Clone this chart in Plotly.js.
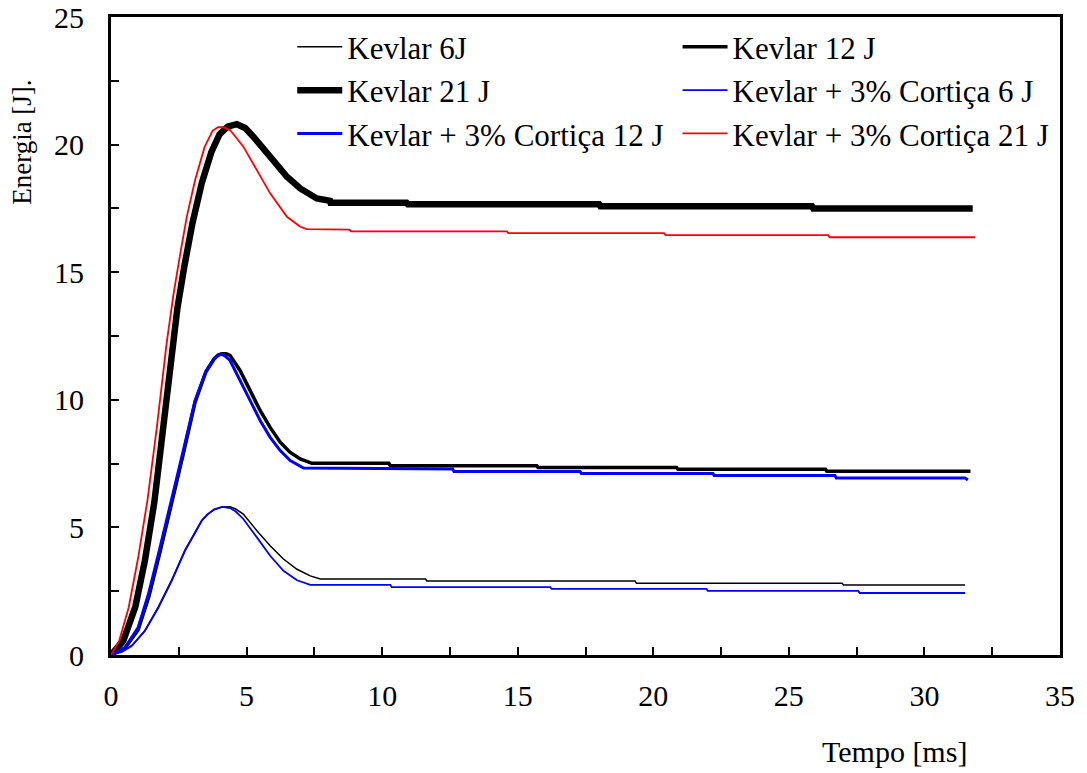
<!DOCTYPE html>
<html>
<head>
<meta charset="utf-8">
<script src="https://cdn.plot.ly/plotly-3.0.1.min.js"></script>
<style>html,body{margin:0;padding:0;background:#fff;}#chart{width:1087px;height:773px;}</style>
</head>
<body>
<div id="chart"></div>
<script>
// Kevlar 6J
const tK6 = [0,0.5,0.8,1.25,1.75,2.24,2.73,3.35,3.55,3.8,4.1,4.39,4.6,4.88,5.38,5.87,6.36,6.86,7.35,7.72,11.6,11.65,19.33,19.38,26.97,27.02,31.5];
const eK6 = [0,0.2,0.4,0.96,1.9,2.95,4.12,5.28,5.5,5.7,5.8,5.81,5.72,5.52,4.87,4.28,3.76,3.36,3.1,2.98,2.98,2.9,2.9,2.81,2.81,2.74,2.74];
// Kevlar 12 J
const tK12 = [0,0.5,1.0,1.4,1.8,2.3,2.65,3.1,3.5,3.8,3.95,4.1,4.25,4.39,4.76,5.13,5.5,5.87,6.24,6.61,6.98,7.41,10.25,10.3,15.7,15.75,20.86,20.91,26.35,26.4,31.7];
const eK12 = [0,0.25,0.98,2.3,4.0,6.2,7.8,9.9,11.1,11.6,11.75,11.8,11.8,11.74,11.15,10.37,9.58,8.92,8.34,7.94,7.68,7.51,7.51,7.42,7.42,7.35,7.35,7.28,7.28,7.2,7.2];
// Kevlar 21 J
const tK21 = [0,0.45,0.9,1.25,1.6,2.0,2.2,2.45,2.7,3.0,3.35,3.7,4.0,4.3,4.64,4.95,5.25,5.99,6.49,6.98,7.59,8.08,8.1,10.9,10.95,18.0,18.05,25.85,25.9,31.78];
const eK21 = [0,0.55,1.9,3.7,6.0,9.8,11.7,13.6,15.2,16.9,18.5,19.7,20.4,20.7,20.8,20.65,20.31,19.4,18.74,18.28,17.89,17.8,17.72,17.72,17.66,17.66,17.58,17.58,17.5,17.5];
// Kevlar + 3% Cortiça 6 J
const tC6 = [0,0.4,0.76,1.25,1.75,2.24,2.73,3.35,3.55,3.8,4.09,4.39,4.6,4.88,5.38,5.87,6.36,6.86,7.35,10.3,10.35,16.2,16.25,21.96,22.01,27.56,27.61,31.5];
const eC6 = [0,0.12,0.35,0.94,1.86,2.9,4.08,5.26,5.5,5.7,5.8,5.76,5.62,5.33,4.61,3.89,3.3,2.93,2.75,2.75,2.66,2.66,2.59,2.59,2.51,2.51,2.43,2.43];
// Kevlar + 3% Cortiça 12 J
const tC12 = [0,0.52,1.0,1.38,1.75,2.24,2.61,3.1,3.5,3.8,3.92,4.05,4.2,4.39,4.76,5.13,5.5,5.87,6.24,6.61,7.1,12.6,12.65,17.3,17.35,22.2,22.25,26.7,26.75,31.5,31.6];
const eC12 = [0,0.29,1.07,2.38,3.95,6.05,7.75,9.97,11.1,11.6,11.72,11.8,11.72,11.54,10.76,9.97,9.19,8.53,8.01,7.62,7.33,7.29,7.19,7.19,7.11,7.11,7.03,7.03,6.94,6.94,6.86];
// Kevlar + 3% Cortiça 21 J
const tC21 = [0,0.3,0.65,1.0,1.35,1.7,2.05,2.3,2.55,2.8,3.1,3.45,3.75,3.95,4.15,4.39,4.6,4.88,5.38,5.87,6.49,6.98,7.22,8.8,8.85,14.6,14.65,20.4,20.45,26.45,26.5,31.87];
const eC21 = [0,0.55,1.85,3.8,6.1,9.0,12.2,14.1,15.7,17.2,18.6,19.9,20.55,20.68,20.68,20.57,20.3,19.92,19.0,18.09,17.17,16.78,16.69,16.67,16.6,16.6,16.53,16.53,16.45,16.45,16.37,16.37];

const names = ['Kevlar 6J','Kevlar 12 J','Kevlar 21 J','Kevlar + 3% Cortiça 6 J','Kevlar + 3% Cortiça 12 J','Kevlar + 3% Cortiça 21 J'];
const xTicks = [0,5,10,15,20,25,30,35];
const yTicks = [0,5,10,15,20,25];

const FONT = 'Liberation Serif, Times New Roman, serif';
function tr(x, y, name, color, width, legend, group) {
  return {x: x, y: y, name: name, type: 'scatter', mode: 'lines',
    line: {color: color, width: width, shape: 'linear'}, legend: legend, legendgroup: group};
}
const data = [
  tr(tK6, eK6, names[0], '#000000', 1.5, 'legend', 'a'),
  tr(tK12, eK12, names[1], '#000000', 3.5, 'legend2', 'd'),
  tr(tK21, eK21, names[2], '#000000', 6.5, 'legend', 'b'),
  tr(tC6, eC6, names[3], '#0000ff', 1.8, 'legend2', 'e'),
  tr(tC12, eC12, names[4], '#0000ff', 3, 'legend', 'c'),
  tr(tC21, eC21, names[5], '#ff0000', 1.8, 'legend2', 'f')
];
const axisCommon = {
  showgrid: false, zeroline: false, showline: true, linecolor: '#000', linewidth: 3, mirror: true,
  ticks: 'inside', ticklen: 8, tickwidth: 2, tickcolor: '#000',
  tickfont: {family: FONT, size: 30, color: '#000'},
  minor: {dtick: 2.5, ticks: 'inside', ticklen: 8, tickwidth: 2, tickcolor: '#000', showgrid: false}
};
const legendCommon = {
  font: {family: FONT, size: 31, color: '#000'}, bgcolor: 'rgba(0,0,0,0)', borderwidth: 0,
  xanchor: 'left', yanchor: 'top', tracegroupgap: 0, itemwidth: 45, orientation: 'v'
};
const layout = {
  width: 1087, height: 773,
  margin: {l: 111, r: 27, t: 17, b: 118},
  paper_bgcolor: '#fff', plot_bgcolor: '#fff',
  showlegend: true,
  xaxis: Object.assign({}, axisCommon, {range: [0, 35], tickvals: xTicks, ticktext: xTicks.map(String), ticklabelstandoff: 12}),
  yaxis: Object.assign({}, axisCommon, {range: [0, 25], tickvals: yTicks, ticktext: yTicks.map(String), ticklabelstandoff: 18}),
  legend: Object.assign({}, legendCommon, {x: 0.191, y: 0.995}),
  legend2: Object.assign({}, legendCommon, {x: 0.597, y: 0.995}),
  annotations: [
    {text: 'Energia [J].', xref: 'paper', yref: 'paper', x: -0.094, y: 0.804, textangle: -90,
     showarrow: false, font: {family: FONT, size: 27, color: '#000'}, xanchor: 'center', yanchor: 'middle'},
    {text: 'Tempo [ms]', xref: 'paper', yref: 'paper', x: 0.826, y: -0.152,
     showarrow: false, font: {family: FONT, size: 30, color: '#000'}, xanchor: 'center', yanchor: 'middle'}
  ]
};
Plotly.newPlot('chart', data, layout, {displayModeBar: false, staticPlot: true});
</script>
</body>
</html>
